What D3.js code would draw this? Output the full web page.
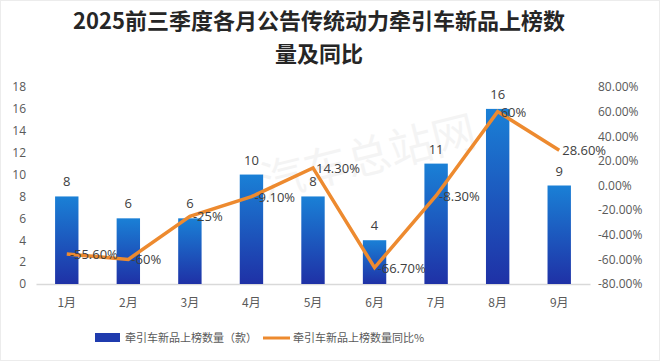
<!DOCTYPE html>
<html>
<head>
<meta charset="utf-8">
<script src="https://cdn.jsdelivr.net/npm/d3@7"></script>
<style>
  body { margin: 0; background: #fff; }
  svg { display: block; font-family: "Noto Sans CJK SC", "Noto Sans", sans-serif; }
</style>
</head>
<body>
<script>
// Data
const months = ["1月", "2月", "3月", "4月", "5月", "6月", "7月", "8月", "9月"];
const counts = [8, 6, 6, 10, 8, 4, 11, 16, 9];
const yoy = [-55.6, -60, -25, -9.1, 14.3, -66.7, -8.3, 60, 28.6];
const yoyLabels = ["-55.60%", "-60%", "-25%", "-9.10%", "14.30%", "-66.70%", "-8.30%", "60%", "28.60%"];
const leftTicks = [0, 2, 4, 6, 8, 10, 12, 14, 16, 18];
const rightTicks = [-80, -60, -40, -20, 0, 20, 40, 60, 80];
const titleLines = ["2025前三季度各月公告传统动力牵引车新品上榜数", "量及同比"];
const legendNames = ["牵引车新品上榜数量（款）", "牵引车新品上榜数量同比%"];

const W = 660, H = 361;
const margin = { top: 87, bottom: 77, left: 36, right: 70 };
const width = W - margin.left - margin.right;
const height = H - margin.top - margin.bottom;

const svg = d3.select("body").append("svg").attr("width", W).attr("height", H);

svg.append("rect").attr("x", 0.5).attr("y", 0.5).attr("width", W - 1).attr("height", H - 1)
  .attr("fill", "#fff").attr("stroke", "#ececec");

// gradient for bars
const defs = svg.append("defs");
const grad = defs.append("linearGradient").attr("id", "barGrad")
  .attr("x1", 0).attr("y1", 0).attr("x2", 0).attr("y2", 1);
grad.append("stop").attr("offset", "0%").attr("stop-color", "#1a80d6");
grad.append("stop").attr("offset", "100%").attr("stop-color", "#1f31a6");

// title
svg.append("g").selectAll("text").data(titleLines).join("text")
  .attr("x", 319).attr("y", (d, i) => 29 + i * 33)
  .attr("text-anchor", "middle")
  .attr("font-size", 22).attr("font-weight", "bold").attr("fill", "#262626")
  .text((d) => d);

// watermark
svg.append("text")
  .attr("transform", "translate(372,172) rotate(-14)")
  .attr("text-anchor", "middle").attr("font-size", 44)
  .attr("fill", "#000").attr("opacity", 0.04)
  .text("汽车总站网");

const g = svg.append("g").attr("transform", `translate(${margin.left},${margin.top})`);

// scales
const xscale = d3.scaleBand().domain(months).range([0, width]).paddingInner(0.62).paddingOuter(0.31);
const yscale = d3.scaleLinear().domain([0, 18]).range([height, 0]);
const y2scale = d3.scaleLinear().domain([-80, 80]).range([height, 0]);

// axes
const yaxis = d3.axisLeft(yscale).tickValues(leftTicks).tickSize(0).tickPadding(10);
const g_yaxis = g.append("g").call(yaxis);
g_yaxis.select(".domain").remove();
g_yaxis.selectAll("text").attr("font-size", 12).attr("fill", "#595959")
  .attr("font-family", "'Open Sans', 'Noto Sans', sans-serif");

const y2axis = d3.axisRight(y2scale).tickValues(rightTicks).tickSize(0).tickPadding(8)
  .tickFormat((d) => d.toFixed(2) + "%");
const g_y2axis = g.append("g").attr("transform", `translate(${width},0)`).call(y2axis);
g_y2axis.select(".domain").remove();
g_y2axis.selectAll("text").attr("font-size", 12).attr("fill", "#595959")
  .attr("font-family", "'Open Sans', 'Noto Sans', sans-serif");

const xaxis = d3.axisBottom(xscale).tickSize(0).tickPadding(14);
const g_xaxis = g.append("g").attr("transform", `translate(0,${height})`).call(xaxis);
g_xaxis.select(".domain").attr("stroke", "#d9d9d9").attr("stroke-width", 1.5);
g_xaxis.selectAll("text").attr("font-size", 12).attr("fill", "#595959")
  .attr("font-family", "'Noto Sans CJK SC', sans-serif");

// bars
g.selectAll("rect.bar").data(counts).join("rect")
  .attr("class", "bar")
  .attr("x", (d, i) => xscale(months[i]))
  .attr("y", (d) => yscale(d))
  .attr("width", xscale.bandwidth())
  .attr("height", (d) => height - yscale(d))
  .attr("fill", "url(#barGrad)");

g.selectAll("text.barlabel").data(counts).join("text")
  .attr("class", "barlabel")
  .attr("x", (d, i) => xscale(months[i]) + xscale.bandwidth() / 2)
  .attr("y", (d) => yscale(d) - 10)
  .attr("text-anchor", "middle").attr("font-size", 13).attr("fill", "#404040")
  .attr("font-family", "'Open Sans', 'Noto Sans', sans-serif")
  .text((d) => d);

// line
const cx = (i) => xscale(months[i]) + xscale.bandwidth() / 2;
const line = d3.line().x((d, i) => cx(i)).y((d) => y2scale(d));
g.append("path").datum(yoy)
  .attr("d", line).attr("fill", "none")
  .attr("stroke", "#ed8a2f").attr("stroke-width", 3.5).attr("stroke-linejoin", "miter");

g.selectAll("text.linelabel").data(yoy).join("text")
  .attr("class", "linelabel")
  .attr("x", (d, i) => cx(i) + 3)
  .attr("y", (d) => y2scale(d) + 5)
  .attr("font-size", 13).attr("fill", "#404040")
  .attr("font-family", "'Open Sans', 'Noto Sans', sans-serif")
  .text((d, i) => yoyLabels[i]);

// legend
const lg = svg.append("g").attr("transform", "translate(95,338)");
lg.append("rect").attr("x", 0).attr("y", -5).attr("width", 25).attr("height", 9).attr("fill", "#1f3bae");
lg.append("text").attr("x", 30).attr("y", 4).attr("font-size", 11).attr("fill", "#595959").text(legendNames[0]);
lg.append("line").attr("x1", 168).attr("x2", 195).attr("y1", 0).attr("y2", 0)
  .attr("stroke", "#ed8a2f").attr("stroke-width", 3);
lg.append("text").attr("x", 198).attr("y", 4).attr("font-size", 11).attr("fill", "#595959").text(legendNames[1]);
</script>
</body>
</html>
